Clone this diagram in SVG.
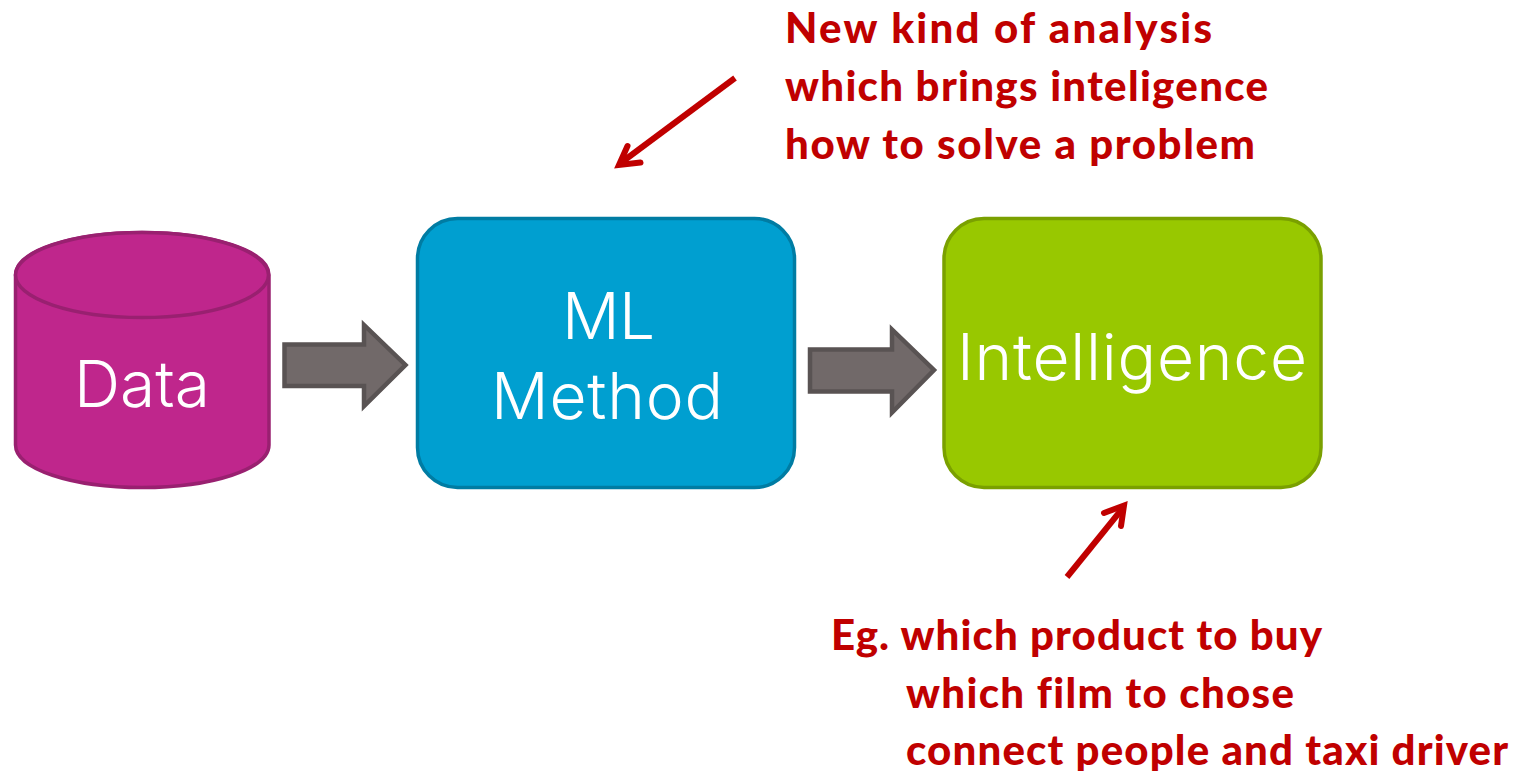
<svg xmlns="http://www.w3.org/2000/svg" width="1520" height="771" viewBox="0 0 1520 771">
<style>
.w{font-family:"Inter","Lato",sans-serif;font-weight:300;fill:#fff;font-size:64px;text-anchor:start}
.r{font-family:"Lato","Noto Sans",sans-serif;font-weight:900;fill:#c00000;font-size:42px;font-variant-ligatures:none}
.g{fill:#716969;stroke:#595353;stroke-width:4.500}
.a{fill:none;stroke:#c00000;stroke-width:6;stroke-linejoin:miter;stroke-miterlimit:8}
</style>
<rect width="1520" height="771" fill="#fff"/>
<g id="data">
<path d="M15.500 275V445C15.500 469 72 487.500 142 487.500S269 469 269 445V275C269 251 212 232.500 142 232.500S15.500 251 15.500 275Z" fill="#bf268c" stroke="#992070" stroke-width="3.500"/>
<ellipse cx="142" cy="275" rx="126.500" ry="42.500" fill="#bf268c" stroke="#992070" stroke-width="3.500"/>
<text class="w" x="74" y="407" textLength="136" lengthAdjust="spacing">Data</text>
</g>
<g id="ml-method">
<rect x="417.500" y="218.500" width="377" height="269" rx="40" fill="#009fd0" stroke="#007ca3" stroke-width="3.500"/>
<text class="w" x="562" y="339" textLength="93" lengthAdjust="spacing">ML</text>
<text class="w" x="491" y="419" textLength="232" lengthAdjust="spacing">Method</text>
</g>
<g id="intelligence">
<rect x="944" y="218.500" width="377" height="269" rx="40" fill="#98c800" stroke="#7aa000" stroke-width="3.500"/>
<text class="w" x="957" y="380" textLength="350" lengthAdjust="spacing">Intelligence</text>
</g>
<g id="connectors">
<path class="g" d="M284.500 344.500H364V325L405.500 365L364 406V386H284.500Z"/>
<path class="g" d="M810 349.500H892V329.500L934 370L892 412.500V391.500H810Z"/>
<path class="a" d="M735 78L622 162"/>
<path class="a" d="M627.500 146L619 165L640.500 162.500" stroke-linecap="round"/>
<path class="a" d="M1067 577L1122 509"/>
<path class="a" d="M1104 513L1124 505.500L1121 526" stroke-linecap="round"/>
</g>
<g id="note-top">
<text class="r" x="785" y="43" textLength="427" lengthAdjust="spacing">New kind of analysis</text>
<text class="r" x="785" y="101" textLength="483" lengthAdjust="spacing">which brings inteligence</text>
<text class="r" x="785" y="159" textLength="470" lengthAdjust="spacing">how to solve a problem</text>
</g>
<g id="note-bottom">
<text class="r" x="831" y="650" textLength="491" lengthAdjust="spacing">Eg. which product to buy</text>
<text class="r" x="906" y="708" textLength="388" lengthAdjust="spacing">which film to chose</text>
<text class="r" x="906" y="765" textLength="602" lengthAdjust="spacing">connect people and taxi driver</text>
</g>
</svg>
